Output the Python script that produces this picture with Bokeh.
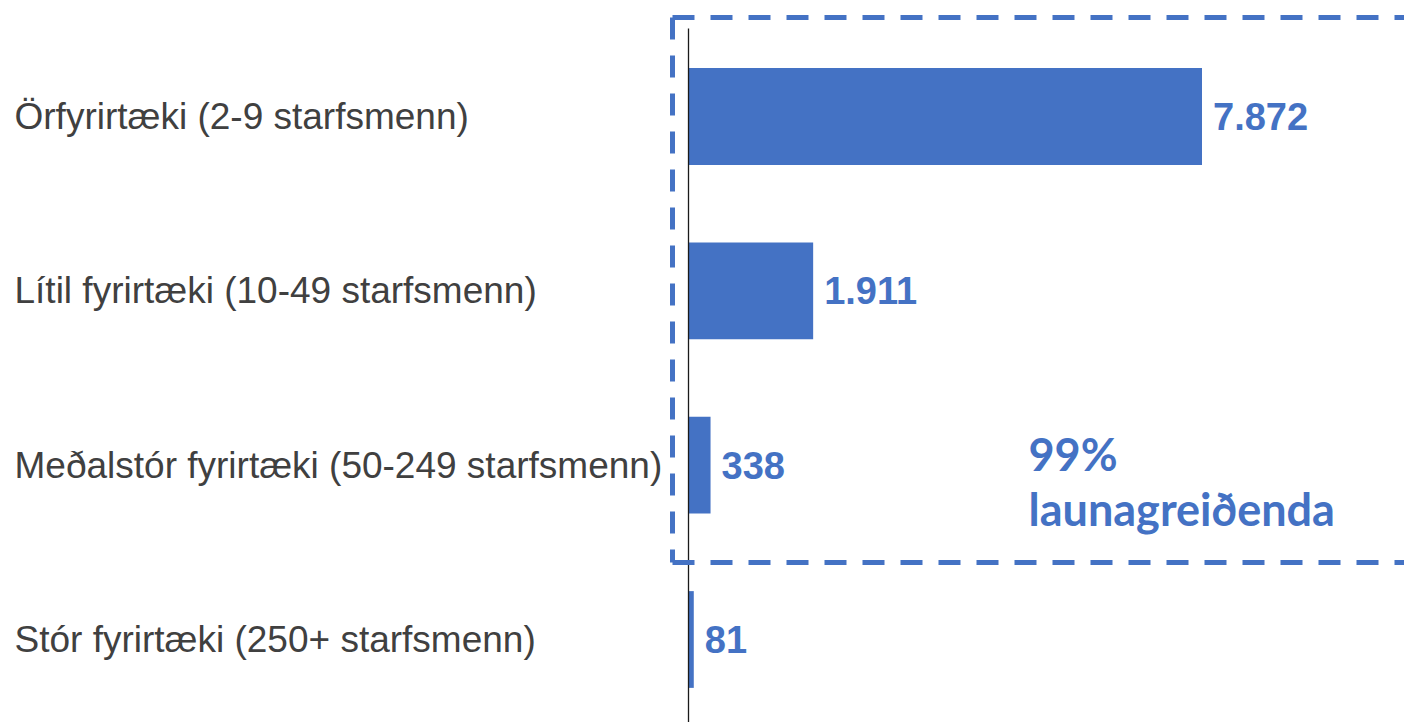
from bokeh.plotting import figure
from bokeh.models import Range1d
from bokeh.core.properties import value
from bokeh.embed import file_html
from bokeh.resources import INLINE

# ---- data ----
categories = [
    "Örfyrirtæki (2-9 starfsmenn)",
    "Lítil fyrirtæki (10-49 starfsmenn)",
    "Meðalstór fyrirtæki (50-249 starfsmenn)",
    "Stór fyrirtæki (250+ starfsmenn)",
]
counts = [7872, 1911, 338, 81]
count_labels = ["7.872", "1.911", "338", "81"]
note_lines = ["99%", "launagreiðenda"]

# ---- layout helpers (screen px -> data) ----
W, H = 1404, 722
PX = 513.5 / 7872.0     # px per unit on x
X0 = 688                # screen px of zero
SP = 174.33             # px per category
n = len(categories)
x_start = -X0 / PX
x_end = (W - X0) / PX
y_end = (n - 1) + 116 / SP
y_start = -(H - 639) / SP


def sx(px):
    return x_start + px / PX


def sy(py):
    return y_end - py / SP


ys = [n - 1 - i for i in range(n)]
BLUE = "#4472C4"

p = figure(width=W, height=H, x_range=Range1d(x_start, x_end),
           y_range=Range1d(y_start, y_end), output_backend="svg",
           toolbar_location=None, min_border=0,
           x_axis_type=None, y_axis_type=None)
p.grid.visible = False
p.outline_line_color = None
p.background_fill_color = "white"
p.border_fill_color = "white"

p.hbar(y=ys, left=0, right=counts, height=0.555, fill_color=BLUE, line_color=None)

# vertical axis line
p.segment(x0=[0], y0=[sy(28)], x1=[0], y1=[y_start], line_color="#1a1a1a", line_width=1.3)

# value labels
p.text(x=counts, y=ys, text=count_labels, x_offset=11, text_baseline="middle",
       text_align="left", text_font=value("Liberation Sans"), text_font_style="bold",
       text_font_size="38px", text_color=BLUE)

# category labels
p.text(x=[sx(14)] * n, y=ys, text=categories, text_baseline="middle", text_align="left",
       text_font=value("Liberation Sans"), text_font_size="37px", text_color="#404040")

# dashed box
dash = dict(line_color=BLUE, line_width=5, line_dash="22 16")
L, T, B, R = sx(672), sy(17), sy(562), sx(W + 40)
p.line(x=[L, R], y=[T, T], **dash)
p.line(x=[L, L], y=[T, B], **dash)
p.line(x=[L, R], y=[B, B], **dash)

# note
p.text(x=[sx(1028)] * 2, y=[sy(453), sy(508)], text=note_lines, text_align="left",
       text_baseline="alphabetic", text_font=value("Lato"), text_font_style="bold",
       text_font_size="45px", text_color=BLUE)

open("out.html", "w").write(file_html(p, INLINE))
